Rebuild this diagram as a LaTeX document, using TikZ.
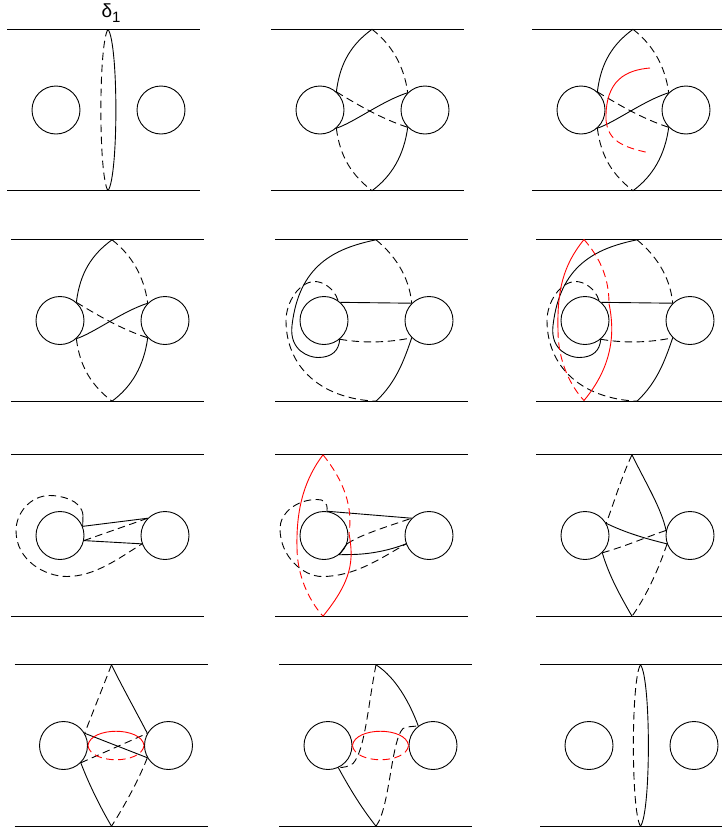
\documentclass[tikz,border=0pt]{standalone}
\usepackage{fontspec}
\setmainfont{Liberation Sans}
\usetikzlibrary{calc}
\tikzset{
  hole/.style={circle, draw=black, line width=0.9pt, inner sep=0pt, minimum size=48pt},
  rail/.style={line width=0.9pt},
  solidcurve/.style={line width=0.9pt},
  dashcurve/.style={line width=0.9pt, dash pattern=on 7.5pt off 4.5pt},
  redcurve/.style={solidcurve, red},
  reddash/.style={dashcurve, red}
}
% Rails and the two holes of one strip, #1 is the x of the apex
\newcommand{\strip}[1]{
  \coordinate (tl) at (-49,-80.7);
  \coordinate (tr) at (144,-80.7);
  \coordinate (bl) at (-49,80.7);
  \coordinate (br) at (144,80.7);
  \coordinate (t) at (#1,-80.7);
  \coordinate (b) at (#1,80.7);
  \draw[rail] (tl) -- (tr);
  \draw[rail] (bl) -- (br);
  \node[hole] (l) at (0,0) {};
  \node[hole] (r) at (105,0) {};
}
% Thin ellipse across the strip
\newcommand{\longoval}{
  \draw[solidcurve] (t) .. controls ($(t)+(10.5,14)$) and ($(b)+(10.5,-14)$) .. (b);
  \draw[dashcurve] (t) .. controls ($(t)+(-9.5,14)$) and ($(b)+(-9.5,-14)$) .. (b);
}
% Small red ellipse between the holes
\newcommand{\redoval}{
  \draw[redcurve] (l.0) .. controls (27,-19) and (78,-19) .. (r.180);
  \draw[reddash] (l.0) .. controls (27,19) and (78,19) .. (r.180);
}
% Curves of the crossing strip
\newcommand{\crossing}{
  \draw[solidcurve] (t) .. controls (32,-66) and (20,-48) .. (l.48);
  \draw[dashcurve] (t) .. controls (71,-66) and (84,-45) .. (r.135);
  \draw[dashcurve] (l.-48) .. controls (20,48) and (33,66) .. (b);
  \draw[solidcurve] (r.-135) .. controls (84,45) and (72,66) .. (b);
  \draw[solidcurve] (l.-48) .. controls (33,13) and (62,-9) .. (r.135);
  \draw[dashcurve] (l.48) .. controls (38,-5) and (62,9) .. (r.-135);
}
% Curves of the strip with the long spiral
\newcommand{\spiral}{
  \coordinate (sa) at (-32,5);
  \coordinate (sb) at (-6,37);
  \coordinate (da) at (-9,-39);
  \coordinate (db) at (-38,0);
  \draw[solidcurve] (t) .. controls (10,-72) and (-25,-55) .. (sa) .. controls (-35,30) and (-15,37) .. (sb) .. controls (8,37) and (15,30) .. (l.-50);
  \draw[dashcurve] (l.55) .. controls (10,-33) and (-2,-39) .. (da) .. controls (-25,-39) and (-38,-18) .. (db) .. controls (-38,45) and (-5,78) .. (b);
  \draw[dashcurve] (t) .. controls (70,-66) and (85,-45) .. (r.135);
  \draw[solidcurve] (l.48) -- (r.135);
  \draw[dashcurve] (l.-50) .. controls (40,23) and (65,22) .. (r.-135);
  \draw[solidcurve] (r.-135) .. controls (80,40) and (72,62) .. (b);
}
\begin{document}
\begin{tikzpicture}[x=1pt, y=-1pt]
  \clip (0,0) rectangle (722,833);
  % First row
  \begin{scope}[shift={(56,110)}]
    \strip{52}
    \longoval
    \node[inner sep=0pt] (delta) at (55,-97) {\fontsize{19}{19}\selectfont δ\raisebox{-5pt}{\fontsize{15}{15}\selectfont 1}};
  \end{scope}
  \begin{scope}[shift={(320,110)}]
    \strip{52}
    \crossing
  \end{scope}
  \begin{scope}[shift={(581,110)}]
    \strip{52}
    \crossing
    \coordinate (ra) at (69,-42);
    \coordinate (rb) at (25,10);
    \coordinate (rc) at (69,43);
    \draw[redcurve] (ra) .. controls (45,-40) and (24,-30) .. (rb);
    \draw[reddash] (rb) .. controls (27,30) and (40,37) .. (rc);
  \end{scope}
  % Second row
  \begin{scope}[shift={(60,320.5)}]
    \strip{52}
    \crossing
  \end{scope}
  \begin{scope}[shift={(324,320.5)}]
    \strip{52}
    \spiral
  \end{scope}
  \begin{scope}[shift={(585,320.5)}]
    \strip{52}
    \spiral
    \coordinate (ra) at (-1,-81);
    \coordinate (rb) at (-1,80);
    \coordinate (rc) at (-27,10);
    \coordinate (rd) at (24,-17);
    \draw[redcurve] (ra) .. controls (-22,-55) and (-28,-30) .. (rc);
    \draw[reddash] (rc) .. controls (-27,40) and (-15,65) .. (rb);
    \draw[reddash] (ra) .. controls (13,-65) and (24,-45) .. (rd);
    \draw[redcurve] (rd) .. controls (30,12) and (28,45) .. (rb);
  \end{scope}
  % Third row
  \begin{scope}[shift={(60,535.5)}]
    \strip{51}
    \coordinate (la) at (23,-20);
    \coordinate (lb) at (-10,-40);
    \coordinate (lc) at (-44,-5);
    \coordinate (ld) at (7,41);
    \draw[solidcurve] (l.22) -- (r.135);
    \draw[solidcurve] (l.-12) -- (r.-160);
    \draw[dashcurve] (l.-12) -- (r.135);
    \draw[solidcurve] (l.22) -- (la);
    \draw[dashcurve] (la) .. controls (22,-36) and (0,-40) .. (lb) .. controls (-30,-40) and (-44,-22) .. (lc) .. controls (-44,25) and (-15,41) .. (ld) .. controls (35,41) and (60,22) .. (r.-160);
  \end{scope}
  \begin{scope}[shift={(324,535.5)}]
    \strip{-1}
    \coordinate (lb) at (-7,-36);
    \coordinate (lc) at (-44,-7);
    \coordinate (ld) at (-2,41);
    \coordinate (le) at (26,19);
    \coordinate (ra) at (-27,12);
    \coordinate (rb) at (25,-2);
    \draw[solidcurve] (l.83) -- (r.135);
    \draw[dashcurve] (l.83) .. controls (4,-34) and (-1,-36) .. (lb) .. controls (-28,-36) and (-44,-22) .. (lc) .. controls (-44,22) and (-20,41) .. (ld) .. controls (30,41) and (55,24) .. (r.-160);
    \draw[dashcurve] (l.-20) .. controls (35,0) and (60,-8) .. (r.135);
    \draw[solidcurve] (l.-20) -- (l.-52);
    \draw[solidcurve] (l.-52) -- (le) .. controls (45,19) and (65,15) .. (r.-160);
    \draw[redcurve] (t) .. controls (-18,-58) and (-28,-30) .. (ra);
    \draw[reddash] (ra) .. controls (-27,40) and (-15,65) .. (b);
    \draw[reddash] (t) .. controls (14,-62) and (30,-35) .. (rb);
    \draw[redcurve] (rb) .. controls (30,25) and (28,45) .. (b);
  \end{scope}
  \begin{scope}[shift={(585,535.5)}]
    \strip{47}
    \draw[dashcurve] (t) .. controls (37,-60) and (28,-30) .. (l.30);
    \draw[solidcurve] (t) .. controls (62,-50) and (76,-28) .. (r.168);
    \draw[solidcurve] (l.30) .. controls (40,-3) and (60,3) .. (r.-160);
    \draw[dashcurve] (l.-45) .. controls (40,11) and (60,2) .. (r.168);
    \draw[solidcurve] (l.-45) .. controls (24,40) and (35,60) .. (b);
    \draw[dashcurve] (r.-160) .. controls (75,30) and (62,60) .. (b);
  \end{scope}
  % Fourth row
  \begin{scope}[shift={(63.5,745.5)}]
    \strip{48}
    \draw[dashcurve] (t) .. controls (40,-60) and (28,-30) .. (l.30);
    \draw[solidcurve] (t) .. controls (58,-60) and (72,-35) .. (r.150);
    \draw[solidcurve] (l.30) -- (r.-150);
    \draw[dashcurve] (l.-45) -- (r.150);
    \draw[solidcurve] (l.-45) .. controls (26,40) and (37,62) .. (b);
    \draw[dashcurve] (r.-150) .. controls (75,35) and (60,62) .. (b);
    \redoval
  \end{scope}
  \begin{scope}[shift={(328,745.5)}]
    \strip{48}
    \coordinate (da) at (25,18);
    \coordinate (db) at (75,-17);
    \draw[solidcurve] (t) .. controls (68,-68) and (82,-42) .. (r.127);
    \draw[dashcurve] (t) .. controls (40,-40) and (37,5) .. (da) .. controls (21,21) and (16,22) .. (l.-65);
    \draw[solidcurve] (l.-65) .. controls (20,40) and (33,62) .. (b);
    \draw[dashcurve] (b) .. controls (62,62) and (63,-5) .. (db) .. controls (79,-19) and (84,-19) .. (r.127);
    \redoval
  \end{scope}
  \begin{scope}[shift={(589,745.5)}]
    \strip{51.5}
    \longoval
  \end{scope}
\end{tikzpicture}
\end{document}
